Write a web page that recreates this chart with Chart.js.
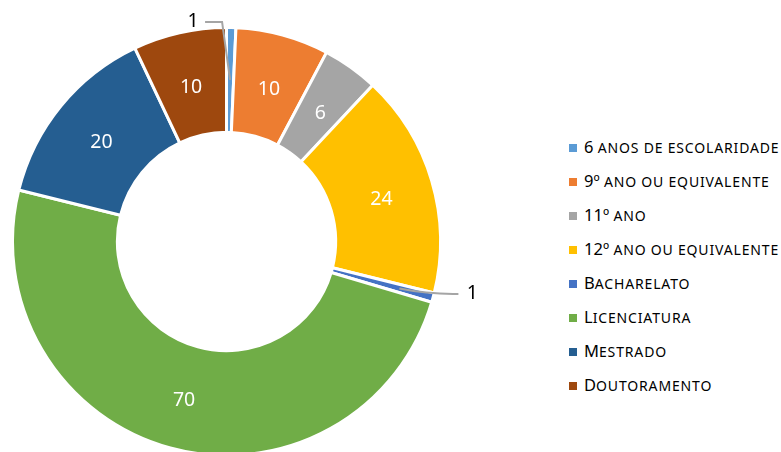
<!DOCTYPE html>
<html>
<head>
<meta charset="utf-8">
<script src="https://cdn.jsdelivr.net/npm/chart.js@4"></script>
<style>
  html, body { margin: 0; padding: 0; background: #fff; overflow: hidden; width: 781px; height: 452px; }
  #wrap { position: absolute; left: 0; top: 0; width: 560px; height: 457px; }
  #legend { position: absolute; left: 569px; top: 130px; font-family: "Noto Sans", sans-serif; font-size: 16.5px; color: #000; white-space: nowrap; }
  #legend div { height: 34px; line-height: 34px; }
  #legend span.box { display: inline-block; width: 8px; height: 8px; margin-right: 7px; vertical-align: 1px; }
  #legend span.sc { font-size: 14px; letter-spacing: 0.85px; text-transform: uppercase; }
</style>
</head>
<body>
<div id="wrap"><canvas id="chart" width="560" height="457"></canvas></div>
<div id="legend"></div>
<script>
// Escolaridade
const categories = ['6 anos de escolaridade', '9º ano ou equivalente', '11º ano', '12º ano ou equivalente',
    'Bacharelato', 'Licenciatura', 'Mestrado', 'Doutoramento'];
const values = [1, 10, 6, 24, 1, 70, 20, 10];
const colors = ['#5B9BD5', '#ED7D31', '#A5A5A5', '#FFC000', '#4472C4', '#70AD47', '#255E91', '#9E480E'];

// small slices get their label outside, with a leader line
const outside = {
    0: { dx: -37, dy: -59, side: 'left' },
    4: { dx: 90, dy: 10, side: 'right' }
};

const labelPlugin = {
    id: 'sliceLabels',
    afterDatasetsDraw(chart) {
        const ctx = chart.ctx;
        const meta = chart.getDatasetMeta(0);
        ctx.save();
        ctx.font = '19.5px "Noto Sans", sans-serif';
        ctx.textBaseline = 'middle';
        ctx.textAlign = 'center';
        meta.data.forEach((arc, i) => {
            const p = arc.tooltipPosition();
            const txt = String(values[i]);
            if (outside[i]) {
                const o = outside[i];
                const mid = (arc.startAngle + arc.endAngle) / 2;
                const r = i === 0 ? (arc.innerRadius + arc.outerRadius) / 2 : arc.innerRadius + 70;
                const ax = arc.x + Math.cos(mid) * r;
                const ay = arc.y + Math.sin(mid) * r;
                const lx = p.x + o.dx, ly = p.y + o.dy;
                ctx.strokeStyle = '#A5A5A5';
                ctx.lineWidth = 2;
                ctx.beginPath();
                if (o.side === 'left') {
                    ctx.moveTo(ax, ay);
                    ctx.lineTo(lx + 29, ly + 1);
                    ctx.lineTo(lx + 12, ly + 1);
                } else {
                    ctx.moveTo(ax, ay);
                    ctx.quadraticCurveTo(ax + 30, ay + 6, lx - 14, ly);
                }
                ctx.stroke();
                ctx.fillStyle = '#000';
                ctx.fillText(txt, lx, ly);
            } else {
                ctx.fillStyle = '#fff';
                ctx.fillText(txt, p.x, p.y + 3.5);
            }
        });
        ctx.restore();
    }
};

new Chart(document.getElementById('chart'), {
    type: 'doughnut',
    data: {
        labels: categories,
        datasets: [{
            data: values,
            backgroundColor: colors,
            borderColor: '#fff',
            borderWidth: 3
        }]
    },
    options: {
        responsive: false,
        animation: false,
        cutout: '51%',
        layout: { padding: { left: 11, right: 118, top: 26, bottom: 0 } },
        plugins: {
            legend: { display: false },
            tooltip: { enabled: false }
        }
    },
    plugins: [labelPlugin]
});

// Legend, small caps: lowercase letters drawn as smaller capitals
function smallCaps(text) {
    return text.replace(/[a-zçãõáéíóú]+/g, m => '<span class="sc">' + m + '</span>');
}
const legend = document.getElementById('legend');
categories.forEach((c, i) => {
    const row = document.createElement('div');
    row.innerHTML = '<span class="box" style="background:' + colors[i] + '"></span>' + smallCaps(c);
    legend.appendChild(row);
});
</script>
</body>
</html>
